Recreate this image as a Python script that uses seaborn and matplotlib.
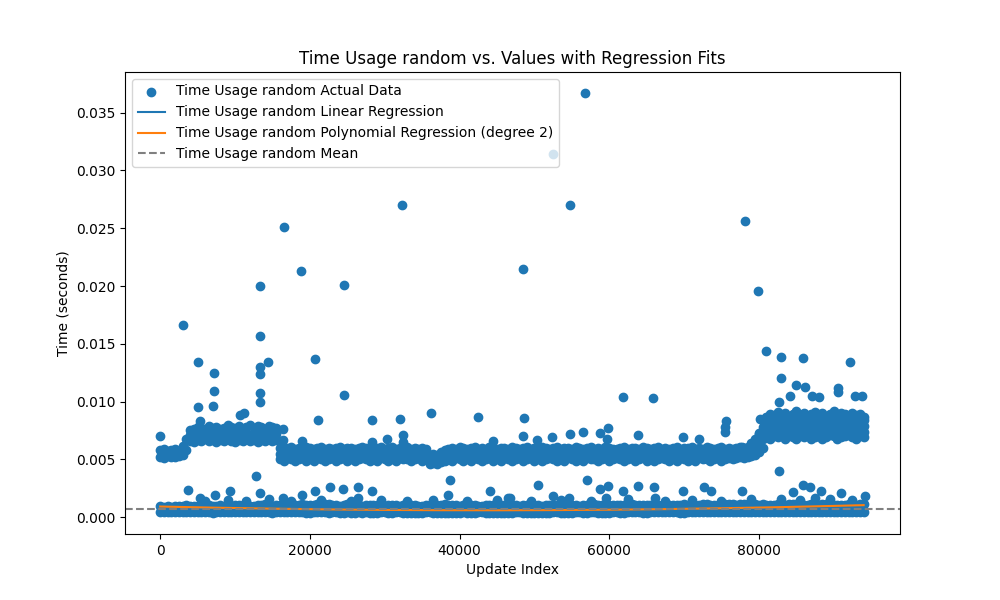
import numpy as np
import matplotlib
matplotlib.use("Agg")
import matplotlib.pyplot as plt
import seaborn as sns

sample_step = 500
n_samples = 189

# dense lower band: bottom and top edge
lower_a = [0.00045, 0.00043, 0.00042, 0.00044, 0.00044, 0.00046, 0.00046, 0.00043, 0.00041, 0.00044,
           0.00043, 0.00045, 0.00045, 0.00042, 0.00040, 0.00043, 0.00044, 0.00042, 0.00042, 0.00045,
           0.00043, 0.00046, 0.00046, 0.00043, 0.00041, 0.00044, 0.00044, 0.00042, 0.00042, 0.00045,
           0.00040, 0.00042, 0.00043, 0.00041, 0.00041, 0.00044, 0.00044, 0.00041, 0.00042, 0.00039,
           0.00039, 0.00041, 0.00043, 0.00041, 0.00041, 0.00039, 0.00044, 0.00042, 0.00040, 0.00038,
           0.00042, 0.00040, 0.00039, 0.00041, 0.00038, 0.00041, 0.00037, 0.00040, 0.00040, 0.00042,
           0.00042, 0.00039, 0.00039, 0.00041, 0.00041, 0.00040, 0.00038, 0.00036, 0.00040, 0.00039,
           0.00037, 0.00041, 0.00041, 0.00039, 0.00038, 0.00040, 0.00040, 0.00038, 0.00037, 0.00039,
           0.00036, 0.00041, 0.00038, 0.00039, 0.00039, 0.00041, 0.00041, 0.00038, 0.00038, 0.00040,
           0.00040, 0.00039, 0.00039, 0.00037, 0.00037, 0.00041, 0.00041, 0.00038, 0.00038, 0.00040,
           0.00040, 0.00038, 0.00036, 0.00039, 0.00039, 0.00041, 0.00041, 0.00038, 0.00038, 0.00040,
           0.00040, 0.00042, 0.00042, 0.00039, 0.00039, 0.00041, 0.00041, 0.00038, 0.00038, 0.00040,
           0.00040, 0.00042, 0.00042, 0.00039, 0.00039, 0.00041, 0.00041, 0.00043, 0.00043, 0.00040,
           0.00040, 0.00042, 0.00042, 0.00044, 0.00044, 0.00041, 0.00041, 0.00043, 0.00043, 0.00040,
           0.00040, 0.00042, 0.00042, 0.00044, 0.00044, 0.00041, 0.00041, 0.00043, 0.00043, 0.00045,
           0.00045, 0.00042, 0.00042, 0.00044, 0.00044, 0.00046, 0.00046, 0.00043, 0.00043, 0.00045,
           0.00045, 0.00042, 0.00042, 0.00044, 0.00044, 0.00046, 0.00046, 0.00043, 0.00043, 0.00045,
           0.00045, 0.00047, 0.00047, 0.00044, 0.00044, 0.00046, 0.00046, 0.00045, 0.00045, 0.00045,
           0.00045, 0.00047, 0.00044, 0.00046, 0.00046, 0.00045, 0.00045, 0.00046, 0.00045]
lower_b = [0.00095, 0.00092, 0.00098, 0.00090, 0.00094, 0.00100, 0.00096, 0.00102, 0.00098, 0.00094,
           0.00097, 0.00103, 0.00108, 0.00101, 0.00096, 0.00100, 0.00105, 0.00099, 0.00094, 0.00098,
           0.00101, 0.00104, 0.00108, 0.00101, 0.00096, 0.00099, 0.00103, 0.00107, 0.00110, 0.00103,
           0.00098, 0.00102, 0.00105, 0.00110, 0.00114, 0.00108, 0.00104, 0.00107, 0.00112, 0.00106,
           0.00102, 0.00106, 0.00110, 0.00113, 0.00116, 0.00110, 0.00105, 0.00102, 0.00100, 0.00106,
           0.00112, 0.00108, 0.00104, 0.00102, 0.00100, 0.00104, 0.00108, 0.00105, 0.00102, 0.00100,
           0.00098, 0.00102, 0.00106, 0.00104, 0.00100, 0.00105, 0.00110, 0.00106, 0.00101, 0.00098,
           0.00100, 0.00104, 0.00108, 0.00105, 0.00102, 0.00106, 0.00110, 0.00107, 0.00104, 0.00101,
           0.00098, 0.00102, 0.00106, 0.00104, 0.00103, 0.00100, 0.00098, 0.00102, 0.00106, 0.00108,
           0.00110, 0.00106, 0.00102, 0.00104, 0.00105, 0.00101, 0.00098, 0.00102, 0.00106, 0.00105,
           0.00104, 0.00101, 0.00098, 0.00102, 0.00106, 0.00104, 0.00101, 0.00105, 0.00108, 0.00106,
           0.00104, 0.00101, 0.00098, 0.00102, 0.00106, 0.00108, 0.00110, 0.00107, 0.00104, 0.00106,
           0.00108, 0.00105, 0.00101, 0.00104, 0.00106, 0.00108, 0.00110, 0.00107, 0.00102, 0.00104,
           0.00106, 0.00108, 0.00104, 0.00101, 0.00104, 0.00108, 0.00108, 0.00106, 0.00104, 0.00106,
           0.00110, 0.00107, 0.00104, 0.00106, 0.00108, 0.00110, 0.00112, 0.00109, 0.00106, 0.00108,
           0.00110, 0.00113, 0.00114, 0.00110, 0.00108, 0.00110, 0.00112, 0.00115, 0.00113, 0.00111,
           0.00106, 0.00110, 0.00108, 0.00104, 0.00108, 0.00112, 0.00110, 0.00106, 0.00110, 0.00114,
           0.00110, 0.00106, 0.00104, 0.00108, 0.00112, 0.00108, 0.00105, 0.00110, 0.00115, 0.00112,
           0.00108, 0.00104, 0.00102, 0.00108, 0.00112, 0.00108, 0.00106, 0.00110, 0.00114]

# upper band (~5-9 ms), written per stretch of update index
# 0-2500 | 3000-3500 | 4000-15500 | 16000-76500 | 77000-79500 | 80000-80500 | 81000-94000
band_a_lo = [0.0052, 0.0051, 0.0053, 0.0052, 0.0052, 0.0053]
band_a_hi = [0.0058, 0.0059, 0.0057, 0.0058, 0.0059, 0.0057]
step1_lo = [0.0054, 0.0058]
step1_hi = [0.0062, 0.0068]
band_b_r1 = [0.0066, 0.0065, 0.0067, 0.0066, 0.0068, 0.0066, 0.0067, 0.0065, 0.0067, 0.0066, 0.0068, 0.0066,
             0.0065, 0.0067, 0.0066, 0.0068, 0.0066, 0.0067, 0.0065, 0.0067, 0.0066, 0.0068, 0.0066, 0.0067]
band_b_r2 = [0.0071, 0.0070, 0.0072, 0.0071, 0.0073, 0.0071, 0.0072, 0.0070, 0.0072, 0.0071, 0.0073, 0.0071,
             0.0070, 0.0072, 0.0071, 0.0073, 0.0071, 0.0072, 0.0070, 0.0072, 0.0071, 0.0073, 0.0071, 0.0072]
band_b_r3 = [0.0075, 0.0076, 0.0078, 0.0077, 0.0076, 0.0079, 0.0077, 0.0078, 0.0076, 0.0077, 0.0080, 0.0078,
             0.0077, 0.0079, 0.0076, 0.0078, 0.0080, 0.0077, 0.0079, 0.0078, 0.0076, 0.0079, 0.0078, 0.0077]
band_c_lo = [0.0050, 0.0049, 0.0051, 0.0050, 0.0049, 0.0050, 0.0051, 0.0049, 0.0050, 0.0049,
             0.0051, 0.0050, 0.0049, 0.0050, 0.0051, 0.0049, 0.0050, 0.0051, 0.0049, 0.0050,
             0.0049, 0.0050, 0.0051, 0.0050, 0.0049, 0.0050, 0.0049, 0.0051, 0.0050, 0.0049,
             0.0050, 0.0049, 0.0051, 0.0050, 0.0050, 0.0049, 0.0050, 0.0051, 0.0049, 0.0050,
             0.0046, 0.0047, 0.0046, 0.0048, 0.0049, 0.0050, 0.0049, 0.0051, 0.0050, 0.0049,
             0.0050, 0.0049, 0.0051, 0.0050, 0.0049, 0.0050, 0.0051, 0.0049, 0.0050, 0.0049,
             0.0051, 0.0050, 0.0049, 0.0050, 0.0051, 0.0049, 0.0050, 0.0051, 0.0049, 0.0050,
             0.0049, 0.0050, 0.0051, 0.0050, 0.0049, 0.0050, 0.0049, 0.0051, 0.0050, 0.0049,
             0.0050, 0.0049, 0.0051, 0.0050, 0.0050, 0.0049, 0.0050, 0.0051, 0.0049, 0.0050,
             0.0051, 0.0050, 0.0049, 0.0050, 0.0051, 0.0049, 0.0050, 0.0051, 0.0049, 0.0050,
             0.0049, 0.0050, 0.0051, 0.0050, 0.0049, 0.0050, 0.0049, 0.0051, 0.0050, 0.0049,
             0.0050, 0.0049, 0.0051, 0.0050, 0.0050, 0.0049, 0.0050, 0.0051, 0.0049, 0.0050,
             0.0051, 0.0050]
band_c_mid = [0.0055, 0.0054, 0.0056, 0.0055, 0.0054, 0.0055, 0.0056, 0.0054, 0.0055, 0.0056,
              0.0054, 0.0055, 0.0056, 0.0055, 0.0054, 0.0056, 0.0055, 0.0054, 0.0055, 0.0056,
              0.0055, 0.0056, 0.0054, 0.0055, 0.0056, 0.0055, 0.0054, 0.0055, 0.0056, 0.0054,
              0.0056, 0.0055, 0.0054, 0.0056, 0.0055, 0.0054, 0.0055, 0.0056, 0.0055, 0.0054,
              0.0050, 0.0051, 0.0050, 0.0052, 0.0054, 0.0055, 0.0054, 0.0056, 0.0055, 0.0054,
              0.0055, 0.0056, 0.0054, 0.0055, 0.0056, 0.0055, 0.0054, 0.0056, 0.0055, 0.0054,
              0.0056, 0.0055, 0.0054, 0.0055, 0.0056, 0.0054, 0.0055, 0.0056, 0.0055, 0.0054,
              0.0055, 0.0054, 0.0056, 0.0055, 0.0054, 0.0055, 0.0056, 0.0054, 0.0055, 0.0056,
              0.0054, 0.0055, 0.0056, 0.0055, 0.0054, 0.0056, 0.0055, 0.0054, 0.0055, 0.0056,
              0.0055, 0.0056, 0.0054, 0.0055, 0.0056, 0.0055, 0.0054, 0.0055, 0.0056, 0.0054,
              0.0056, 0.0055, 0.0054, 0.0056, 0.0055, 0.0054, 0.0055, 0.0056, 0.0055, 0.0054,
              0.0055, 0.0056, 0.0054, 0.0055, 0.0056, 0.0055, 0.0054, 0.0056, 0.0055, 0.0054,
              0.0055, 0.0054]
band_c_hi = [0.0060, 0.0059, 0.0060, 0.0061, 0.0059, 0.0060, 0.0059, 0.0061, 0.0060, 0.0059,
             0.0060, 0.0061, 0.0059, 0.0060, 0.0059, 0.0060, 0.0061, 0.0059, 0.0060, 0.0060,
             0.0059, 0.0060, 0.0061, 0.0060, 0.0059, 0.0060, 0.0060, 0.0061, 0.0059, 0.0060,
             0.0061, 0.0059, 0.0060, 0.0060, 0.0061, 0.0059, 0.0060, 0.0059, 0.0060, 0.0059,
             0.0054, 0.0055, 0.0054, 0.0056, 0.0058, 0.0059, 0.0060, 0.0059, 0.0061, 0.0060,
             0.0059, 0.0060, 0.0061, 0.0059, 0.0060, 0.0059, 0.0061, 0.0060, 0.0059, 0.0060,
             0.0060, 0.0059, 0.0061, 0.0060, 0.0059, 0.0060, 0.0061, 0.0059, 0.0060, 0.0059,
             0.0061, 0.0060, 0.0059, 0.0060, 0.0061, 0.0059, 0.0060, 0.0060, 0.0059, 0.0061,
             0.0060, 0.0059, 0.0060, 0.0061, 0.0059, 0.0060, 0.0059, 0.0061, 0.0060, 0.0059,
             0.0059, 0.0060, 0.0061, 0.0059, 0.0060, 0.0060, 0.0059, 0.0061, 0.0060, 0.0059,
             0.0060, 0.0061, 0.0059, 0.0060, 0.0059, 0.0060, 0.0061, 0.0059, 0.0060, 0.0060,
             0.0061, 0.0059, 0.0060, 0.0059, 0.0061, 0.0060, 0.0059, 0.0060, 0.0061, 0.0059,
             0.0060, 0.0059]
band_d_lo = [0.0051, 0.0052, 0.0051, 0.0052, 0.0053, 0.0054]
band_d_mid = [0.0055, 0.0056, 0.0055, 0.0056, 0.0058, 0.0060]
band_d_hi = [0.0060, 0.0061, 0.0060, 0.0061, 0.0064, 0.0068]
step2_lo = [0.0056, 0.0060]
step2_r2 = [0.0064, 0.0068]
step2_hi = [0.0072, 0.0078]
band_e_r1 = [0.0069, 0.0068, 0.0070, 0.0069, 0.0071, 0.0068, 0.0070, 0.0069, 0.0068, 0.0070, 0.0069, 0.0071, 0.0068, 0.0069,
             0.0070, 0.0068, 0.0069, 0.0071, 0.0070, 0.0068, 0.0069, 0.0070, 0.0071, 0.0069, 0.0068, 0.0070, 0.0069]
band_e_r2 = [0.0074, 0.0073, 0.0075, 0.0074, 0.0076, 0.0073, 0.0075, 0.0074, 0.0073, 0.0075, 0.0074, 0.0076, 0.0073, 0.0074,
             0.0075, 0.0073, 0.0074, 0.0076, 0.0075, 0.0073, 0.0074, 0.0075, 0.0076, 0.0074, 0.0073, 0.0075, 0.0074]
band_e_r3 = [0.0079, 0.0078, 0.0080, 0.0079, 0.0081, 0.0078, 0.0080, 0.0079, 0.0078, 0.0080, 0.0079, 0.0081, 0.0078, 0.0079,
             0.0080, 0.0078, 0.0079, 0.0081, 0.0080, 0.0078, 0.0079, 0.0080, 0.0081, 0.0079, 0.0078, 0.0080, 0.0079]
band_e_r4 = [0.0083, 0.0085, 0.0084, 0.0086, 0.0084, 0.0085, 0.0083, 0.0084, 0.0086, 0.0085, 0.0084, 0.0083, 0.0085, 0.0084,
             0.0086, 0.0084, 0.0085, 0.0083, 0.0084, 0.0086, 0.0085, 0.0084, 0.0083, 0.0085, 0.0084, 0.0086, 0.0084]
band_e_r5 = [0.0087, 0.0089, 0.0088, 0.0091, 0.0088, 0.0090, 0.0087, 0.0089, 0.0092, 0.0088, 0.0090, 0.0087, 0.0089, 0.0091,
             0.0088, 0.0090, 0.0087, 0.0089, 0.0092, 0.0088, 0.0090, 0.0089, 0.0087, 0.0090, 0.0088, 0.0089, 0.0087]

# scattered points outside the bands
out_x = [56760, 52490, 54760, 32320, 78130, 16560, 18830, 48480, 13360, 24570,
         79870, 3070, 13360, 80930, 20700, 82940, 85880, 92150, 5080, 14420,
         13360, 13360, 7210, 7210, 13360, 13360, 24570, 61840, 65840, 82940,
         84940, 86100, 90550, 90550, 92830, 93760, 84100, 87100, 88100, 82700,
         21100, 32050, 28310, 36200, 42470, 48610, 75590, 5080, 7080, 10680,
         11200, 5340, 82670, 12820, 38730,
         0, 16430, 16430, 18960, 30300, 32450, 32450, 28300, 44500, 48480,
         50350, 52350, 54760, 56490, 58770, 59830, 59700, 63840, 69850, 71990,
         75460, 75460, 77700, 80130, 80000,
         3740, 9350, 7350, 22700, 24440, 26440, 28310, 20700, 38460, 44070,
         46480, 18960, 16430, 13360, 5340, 26440, 50480, 57030, 58770, 59830,
         61840, 63840, 65980, 69850, 72650, 73590, 77730, 85880, 86810, 88280,
         90950, 84540, 94150, 46740, 52490, 54630, 59560, 66110,
         6000, 9000, 11500, 14500, 17500, 21500, 25500, 29500, 33000, 36500,
         41000, 45000, 49500, 53500, 57500, 62500, 67500, 71000, 75000, 79000,
         83000, 85500, 87500, 89500, 92500]
out_y = [0.0367, 0.0314, 0.0270, 0.0270, 0.0256, 0.0251, 0.0213, 0.0215, 0.0200, 0.0201,
         0.0196, 0.0166, 0.0157, 0.0144, 0.0137, 0.0139, 0.0138, 0.0134, 0.0134, 0.0134,
         0.0130, 0.0124, 0.0125, 0.0109, 0.0107, 0.0100, 0.0106, 0.0104, 0.0103, 0.0120,
         0.0114, 0.0113, 0.0112, 0.0108, 0.0105, 0.0105, 0.0105, 0.0105, 0.0104, 0.0100,
         0.0084, 0.0085, 0.0084, 0.0090, 0.0087, 0.0086, 0.0083, 0.0095, 0.0096, 0.0088,
         0.0090, 0.0083, 0.0040, 0.0036, 0.0032,
         0.0070, 0.0076, 0.0067, 0.0066, 0.0068, 0.0071, 0.0065, 0.0065, 0.0066, 0.0070,
         0.0067, 0.0069, 0.0072, 0.0074, 0.0073, 0.0077, 0.0068, 0.0071, 0.0069, 0.0068,
         0.0078, 0.0074, 0.0061, 0.0085, 0.0073,
         0.00234, 0.00225, 0.0019, 0.0026, 0.0024, 0.0026, 0.0023, 0.00225, 0.0019, 0.00225,
         0.00165, 0.0019, 0.0017, 0.0021, 0.0017, 0.00165, 0.0028, 0.0032, 0.0024, 0.0027,
         0.00225, 0.0027, 0.0026, 0.00225, 0.0026, 0.00225, 0.0023, 0.0028, 0.0026, 0.0023,
         0.0021, 0.0022, 0.0018, 0.00165, 0.0018, 0.00165, 0.00165, 0.00165,
         0.0014, 0.0015, 0.0014, 0.0016, 0.0014, 0.0015, 0.0014, 0.0015, 0.0014, 0.0015,
         0.0014, 0.0015, 0.0014, 0.0015, 0.0014, 0.0016, 0.0014, 0.0015, 0.0014, 0.0016,
         0.0016, 0.0015, 0.0017, 0.0016, 0.0015]

# fitted values
mean_time = 0.00071
lin_coef = [8.5e-10, 0.00070]                 # slope, intercept
poly_coef = [1.727e-13, -1.496e-08, 0.00092]  # degree 2

label_prefix = "Time Usage random"

# ---- assemble ----
def gap(n):
    return [None] * n

up_lo = band_a_lo + step1_lo + band_b_r1 + band_c_lo + band_d_lo + step2_lo + band_e_r1
up_hi = band_a_hi + step1_hi + band_b_r3 + band_c_hi + band_d_hi + step2_hi + band_e_r5
up_r2 = gap(8) + band_b_r2 + band_c_mid + band_d_mid + step2_r2 + band_e_r2
up_r3 = gap(162) + band_e_r3
up_r4 = gap(162) + band_e_r4

idx = np.arange(n_samples) * sample_step
rows = [lower_a, lower_b, up_lo, up_r2, up_r3, up_r4, up_hi]
xs = [idx for _ in rows] + [np.array(out_x, dtype=float)]
ys = [np.array(r, dtype=float) for r in rows] + [np.array(out_y, dtype=float)]
all_x = np.concatenate(xs)
all_y = np.concatenate(ys)
keep = ~np.isnan(all_y)
all_x, all_y = all_x[keep], all_y[keep]

fit_x = idx.astype(float)
lin_vals = np.polyval(lin_coef, fit_x)
poly_vals = np.polyval(poly_coef, fit_x)

fig, ax = plt.subplots(figsize=(10, 6))
sns.scatterplot(x=all_x, y=all_y, ax=ax, color="#1f77b4", s=36,
                edgecolor="#1f77b4", linewidth=1.0, alpha=1.0,
                label=f"{label_prefix} Actual Data")
sns.lineplot(x=fit_x, y=lin_vals, ax=ax, color="#1f77b4", linewidth=1.5,
             label=f"{label_prefix} Linear Regression")
sns.lineplot(x=fit_x, y=poly_vals, ax=ax, color="#ff7f0e", linewidth=1.5,
             label=f"{label_prefix} Polynomial Regression (degree 2)")
ax.axhline(mean_time, color="gray", linestyle="--", linewidth=1.5,
           label=f"{label_prefix} Mean")

ax.set_title(f"{label_prefix} vs. Values with Regression Fits")
ax.set_xlabel("Update Index")
ax.set_ylabel("Time (seconds)")
ax.legend(loc="upper left")

plt.savefig("out.png", dpi=100)
plt.close()
